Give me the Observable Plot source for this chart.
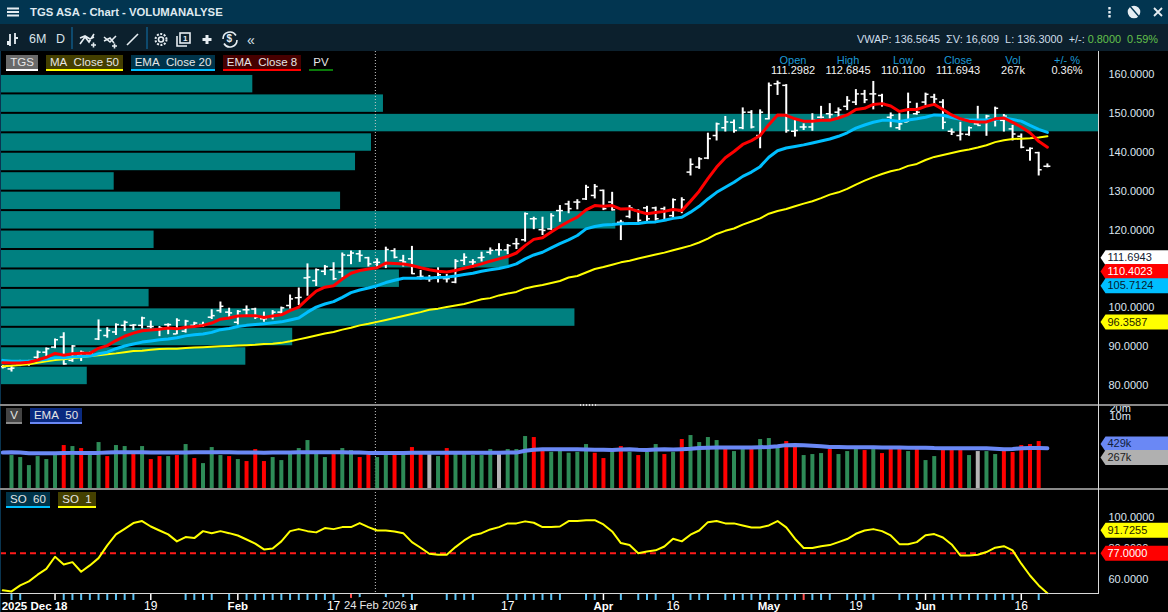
<!DOCTYPE html>
<html>
<head>
<meta charset="utf-8">
<script src="https://cdn.jsdelivr.net/npm/d3@7"></script>
<script src="https://cdn.jsdelivr.net/npm/@observablehq/plot@0.6"></script>
<style>
html,body{margin:0;padding:0;background:#000;overflow:hidden}
#page{position:relative;width:1168px;height:612px;background:#000;font-family:"Liberation Sans",Arial,sans-serif;overflow:hidden}
.abs{position:absolute;white-space:nowrap}
.sep{width:1.5px;background:#0e4a6e;top:27px;height:22px}
.tool{color:#d9e3ea;font-size:12.5px;top:32px}
.lg{height:14px;line-height:14px;font-size:11.5px;color:#e6e6e6;text-align:center}
.lgu{height:2px}
.hdr{font-size:11px;color:#1c9ad6;width:60px;text-align:center;top:54px;line-height:12px}
.val{font-size:11px;color:#f2f2f2;width:60px;text-align:center;top:64px;line-height:12px}
.grey{background:#8a8a8a}
</style>
</head>
<body>
<div id="page"></div>
<script>
// ---- price data (one value per trading day) ----
const highs = [85.2,85.2,86.5,86.5,88.9,89.7,92.0,93.6,90.3,88.9,88.6,96.9,94.9,95.9,96.6,95.7,97.6,96.6,95.2,95.9,97.2,96.8,96.3,96.3,99.5,101.5,99.9,99.3,100.5,99.9,98.9,99.3,100.2,103.3,105.1,111.3,110.0,110.9,111.6,114.1,114.6,114.7,113.0,112.6,115.6,115.2,
113.5,115.8,109.6,108.3,110.3,108.6,112.4,113.9,112.4,114.3,115.4,116.5,116.3,117.8,124.4,123.3,123.3,124.2,126.3,127.4,127.8,131.5,131.7,130.3,129.7,122.5,126.3,125.2,126.1,125.9,125.9,128.0,128.3,
138.3,138.6,144.9,147.5,149.2,148.3,151.4,150.7,150.9,157.8,158.3,157.4,148.2,147.3,149.9,151.8,152.5,151.4,154.3,156.1,155.9,158.2,154.9,150.1,149.9,155.2,152.6,155.2,154.9,153.5,146.0,147.7,146.5,151.8,149.5,151.6,149.7,146.9,144.7,141.1,140.0,137.0];
const lows = [84.3,83.5,84.9,85.0,86.5,87.3,89.5,85.3,86.0,86.2,87.3,91.6,92.2,92.9,93.9,94.2,94.6,94.6,92.6,93.1,93.1,93.5,94.9,95.0,97.0,98.6,97.6,95.6,97.6,97.0,96.3,96.9,98.0,99.7,100.6,103.0,105.5,108.3,107.0,107.7,111.1,111.7,110.5,110.5,110.1,112.6,
110.5,108.6,107.2,106.6,106.4,106.4,106.2,110.9,110.3,111.8,113.6,113.3,113.7,115.0,116.9,120.1,118.6,119.9,122.0,124.2,125.2,127.6,128.0,125.0,124.9,117.3,122.9,122.0,122.0,122.3,122.5,122.9,124.2,
133.9,135.6,138.1,142.9,145.2,144.9,145.8,146.0,140.9,148.3,154.6,144.9,143.9,145.6,145.4,148.6,148.6,149.0,150.7,152.0,152.5,150.9,151.6,146.3,145.6,147.7,149.5,152.0,152.0,145.8,144.3,142.9,144.1,146.9,144.1,146.5,145.2,142.9,140.9,137.7,133.9,136.0];
const opens = [84.9,84.3,85.6,85.6,87.3,88.6,89.9,92.5,86.5,87.8,88.0,92.0,92.9,93.8,95.5,95.5,95.5,95.2,94.6,95.7,93.3,94.0,95.5,95.7,97.6,99.3,98.9,96.3,99.5,99.7,97.2,97.6,98.9,100.6,102.6,107.7,107.0,109.4,109.8,109.2,113.5,113.9,112.9,111.7,111.1,114.7,
112.2,112.6,107.9,107.5,107.9,107.5,106.6,112.2,111.8,112.9,114.3,114.9,114.9,116.5,117.5,122.9,120.1,120.3,125.0,126.7,127.2,128.0,128.9,130.2,127.2,122.0,123.5,125.0,125.7,125.7,125.5,123.7,125.0,
134.9,136.2,138.5,144.3,146.3,147.7,146.3,150.3,144.3,148.6,157.6,157.2,145.4,146.5,146.5,149.0,149.9,150.3,151.8,152.9,155.0,155.0,154.6,149.0,146.3,147.8,149.9,152.9,154.2,152.9,145.4,144.3,144.6,147.3,148.2,148.2,148.2,146.0,144.1,140.5,139.9,136.4];
const closes = [84.8,84.5,86.0,86.3,88.6,89.5,91.8,85.6,90.2,88.6,88.2,94.2,94.2,95.7,96.3,95.6,97.4,95.2,94.9,95.7,96.8,96.6,96.1,95.7,98.0,100.4,98.7,99.1,99.5,97.6,97.2,98.9,100.0,102.3,102.7,107.9,109.8,110.6,107.5,113.6,114.1,113.5,111.3,111.7,115.0,113.0,
111.8,108.8,108.1,107.5,108.5,107.5,112.0,113.0,111.8,113.0,114.8,114.9,116.0,116.5,124.2,122.9,119.9,123.7,125.0,125.5,127.2,131.0,131.2,125.5,125.2,122.0,125.7,122.5,122.9,122.9,122.5,127.8,127.8,
136.9,138.3,143.5,147.3,147.8,145.6,150.3,146.5,150.3,157.2,157.8,145.6,145.6,146.5,148.2,149.0,149.7,150.9,153.3,155.0,153.5,155.0,152.5,149.5,147.3,152.9,150.3,154.9,153.7,147.7,145.2,144.7,146.3,146.9,149.3,151.3,149.3,144.7,141.3,141.0,135.5,136.4];
// ---- moving averages ----
const ema8 = [85.9,85.8,85.8,86.0,86.6,87.3,88.3,87.8,88.2,88.3,88.3,89.6,90.3,91.6,92.7,93.5,94.1,94.3,94.5,94.8,94.6,95.0,95.2,95.5,96.1,97.1,97.4,97.9,98.0,98.0,97.5,97.9,98.2,99.3,100.2,102.3,104.3,105.3,105.7,107.4,108.9,109.6,110.0,110.3,111.5,111.4,
111.3,110.9,110.3,109.8,109.4,109.2,109.6,110.2,110.7,111.3,112.0,112.6,113.2,114.1,116.0,117.6,118.0,119.5,120.9,122.2,123.3,125.2,126.3,126.1,126.3,125.4,125.5,124.8,124.2,124.5,124.8,125.3,125.0,
127.4,130.0,133.2,136.2,138.6,140.2,142.0,143.0,144.3,147.1,149.6,149.5,148.6,148.0,148.0,148.2,148.2,148.8,149.6,151.0,151.3,152.3,152.5,151.9,150.5,151.0,151.0,151.8,152.3,151.0,149.6,148.6,148.0,147.8,147.8,148.6,148.8,147.7,146.5,145.0,142.8,141.3];
const ema20 = [86.5,86.3,86.3,86.3,86.5,86.8,87.2,87.2,87.4,87.5,87.6,88.2,88.6,89.5,90.2,90.7,91.2,91.5,91.8,92.0,92.3,92.8,93.1,93.3,93.7,94.4,94.7,95.2,95.5,95.7,95.9,96.2,96.4,96.9,97.4,98.9,100.2,101.0,101.6,102.7,103.9,104.6,105.1,105.7,106.5,107.1,
107.6,107.6,107.6,107.7,107.8,107.9,108.2,108.6,108.9,109.4,109.8,110.1,110.6,111.3,112.6,113.6,114.3,115.4,116.5,117.5,118.6,120.3,120.9,121.3,121.4,121.6,121.7,121.7,122.0,122.1,122.5,123.0,123.3,
124.6,126.1,128.0,129.7,131.0,132.3,133.8,134.9,136.3,138.7,140.4,141.1,141.5,141.9,142.4,142.9,143.4,144.1,145.0,146.2,147.0,147.7,148.2,148.2,147.9,148.3,148.6,149.0,149.6,149.5,148.9,148.5,148.3,148.3,148.3,148.4,148.8,148.4,148.0,146.9,145.9,145.1];
const ma50 = [85.0,85.1,85.3,85.5,85.9,86.3,86.6,86.8,87.1,87.3,87.6,87.8,88.1,88.3,88.6,88.9,89.0,89.2,89.4,89.5,89.5,89.7,89.8,89.9,90.0,90.1,90.2,90.3,90.4,90.5,90.7,90.8,91.0,91.4,91.9,92.4,92.9,93.4,93.8,94.4,94.9,95.5,95.9,96.4,96.9,97.4,
97.9,98.4,98.9,99.5,99.8,100.2,100.6,101.0,101.6,102.2,102.5,103.2,103.7,104.1,105.0,105.5,105.9,106.4,106.9,107.8,108.2,109.1,110.0,110.5,111.1,111.7,112.1,112.7,113.2,113.7,114.2,114.8,115.4,
116.0,116.8,117.8,119.0,119.8,120.4,121.4,122.2,123.0,124.2,124.9,125.4,126.1,126.8,127.4,128.2,129.1,129.7,130.6,131.7,132.7,133.6,134.4,135.1,135.6,136.5,137.0,138.0,138.8,139.3,139.8,140.3,140.7,141.2,141.8,142.6,143.1,143.4,143.5,143.6,143.8,144.1];
// ---- price-volume profile, one per 5-unit price band, top band first ----
const pvTops = [160,155,150,145,140,135,130,125,120,115,110,105,100,95,90,85];
const pvVolume = [252,383,1100,371,355,113,340,616,153,509,399,148,575,292,245,86];
// ---- volume, in thousands ----
const volumes = [0,341,287,143,312,241,341,811,743,625,394,1051,312,811,743,454,743,241,312,312,341,884,263,170,682,341,312,241,203,573,203,287,221,394,625,1250,454,287,372,625,526,287,394,287,417,394,
417,682,394,394,312,625,417,394,341,341,573,394,573,573,1769,1621,526,454,526,417,454,884,417,263,526,743,454,341,454,884,372,454,1364,1928,1051,1621,1250,625,482,573,573,1364,1487,702,1146,811,
341,372,405,573,372,482,573,526,573,405,573,573,482,573,221,312,526,526,526,341,482,482,372,526,442,811,884,1146,19];
const redVolumeDays = [7,9,12,15,17,18,20,22,26,28,29,30,38,41,42,45,47,48,51,61,62,68,69,71,73,76,78,83,86,90,91,95,99,101,102,103,105,108,109,110,115,116,117,118,119];
const greyVolumeDays = [49,57,112];
const volumeEma = [440,450,440,420,420,420,420,425,430,430,430,430,440,450,455,455,450,445,445,445,445,445,450,450,450,450,450,445,440,440,435,440,445,445,450,455,455,455,455,450,445,440,430,430,430,430,430,435,435,435,435,435,435,435,435,435,435,435,440,440,
520,560,585,590,590,590,590,575,565,560,555,575,590,565,555,575,590,570,585,610,650,665,680,680,680,680,680,700,720,770,840,850,830,800,770,720,710,700,700,695,695,690,685,680,675,670,670,650,645,640,640,640,640,640,620,590,605,645,650,650,645];
// ---- stochastic oscillator ----
const so1 = [53.0,52.3,56.2,58.8,63.1,66.9,74.7,69.7,71.2,65.0,69.1,73.8,82.0,89.1,92.7,96.4,97.7,94.2,91.6,89.1,84.6,87.4,86.7,91.2,89.9,91.2,89.9,88.4,85.8,83.1,79.4,80.0,84.6,91.2,92.5,91.2,90.4,93.2,92.5,93.8,93.8,96.4,93.8,91.6,91.6,91.0,
89.9,84.1,80.5,76.6,76.0,76.0,80.9,85.2,88.6,89.9,92.3,93.8,96.2,96.2,97.5,96.6,93.8,93.8,94.2,97.7,97.7,98.3,98.3,95.5,91.0,83.5,82.2,77.0,78.1,78.8,81.3,86.3,84.6,88.9,91.6,97.0,97.7,96.2,96.2,94.9,93.6,93.6,94.9,97.7,93.6,86.3,
80.3,80.3,81.5,82.2,84.1,86.1,89.5,91.6,92.5,91.2,88.4,82.8,82.8,84.1,88.6,89.3,87.1,82.6,75.5,75.5,76.0,77.7,80.5,81.5,78.8,70.2,62.6,56.2,51.2];
const soLevel = 77;
// ---- axes ----
const priceTicks = [160,150,140,130,120,110,100,90,80];
const volTicks = [20000,10000];
const soTicks = [100,80,60];
const blueTickDays = [1,2,7,8,9,10,11,12,13,14,15,21,22,23,24,26,28,29,30,31,32,33,34,35,36,37,38,41,44,46,47,51,52,53,54,58,59,60,61,62,63,64,67,68,71,73,74,75,77,79,80,81,83,84,85,86,87,88,89,90,91,93,94,95,97,98,99,100,103,104,105,107,108,109,110,111,112,113,114,115,116,119];
const whiteTickDays = [6,17,27,69,106,117];
const redTickDays = [40,92];
const boldDateLabels = [{day:27,text:"Feb"},{day:46.5,text:"Mar"},{day:69,text:"Apr"},{day:88,text:"May"},{day:106,text:"Jun"}];
const plainDateLabels = [{day:17,text:"19"},{day:38,text:"17"},{day:58,text:"17"},{day:77,text:"16"},{day:98,text:"19"},{day:117,text:"16"}];
const firstDateLabel = {day:6,text:"2025 Dec 18"};
const crossDay = 42.8;
const crossDateLabel = "24 Feb 2026";
const priceTags = [
  {v:111.6943,fill:"#ffffff",text:"#102030",shift:-4.6},
  {v:110.4023,fill:"#ff0000",text:"#ffffff",shift:4},
  {v:105.7124,fill:"#00bfff",text:"#06202e",shift:0},
  {v:96.3587,fill:"#ffff00",text:"#222200",shift:0}
];
const volTags = [{v:429,label:"429k",fill:"#6a88f5",text:"#10203c",shift:-9},{v:267,label:"267k",fill:"#b0b0b0",text:"#202020",shift:-1}];
const soTags = [{v:91.7255,fill:"#ffff00",text:"#222200"},{v:77,fill:"#ff0000",text:"#ffffff"}];

const days = d3.range(121);
const bars = days.map(i=>({i,high:highs[i],low:lows[i],open:opens[i],close:closes[i]}));
const line = arr => days.map(i=>({i,v:arr[i]}));
const xScale = {domain:[-0.264,125.87],range:[0,1098],axis:null};
const FONT = '"Liberation Sans",Arial,sans-serif';
const tagShape = {draw(c){c.moveTo(0,0);c.lineTo(5,-7.5);c.lineTo(68,-7.5);c.lineTo(68,7.5);c.lineTo(5,7.5);c.closePath();}};
function tagMarks(tags,labelOf){
  return tags.flatMap(t=>[
    Plot.dot([t],{y:"v",frameAnchor:"right",dx:2,symbol:tagShape,fill:t.fill,stroke:"none",dy:t.shift||0}),
    Plot.text([t],{y:"v",frameAnchor:"right",dx:9,dy:t.shift||0,textAnchor:"start",text:labelOf,fill:t.text,fontSize:11,fontFamily:FONT})
  ]);
}
function crossRule(){return Plot.ruleX([crossDay],{stroke:"#c8c8c8",strokeWidth:1,strokeDasharray:"1,2"});}
const common = {width:1168,marginLeft:0,marginRight:70,marginTop:0,x:xScale};
const page = document.getElementById("page");

// profile layer
const priceY = {domain:[74.9,165.9],range:[354,0],axis:null};
const profile = Plot.plot({width:1168,height:354,marginLeft:1,marginRight:70,marginTop:0,marginBottom:0,
  x:{domain:[0,1100],axis:null},y:priceY,
  marks:[Plot.rectX(pvTops.map((t,k)=>({t,v:pvVolume[k]})),{x1:0,x2:"v",y1:d=>d.t-5,y2:"t",fill:"#008080",insetTop:1,insetBottom:1})]});
// price layer
const price = Plot.plot({...common,height:354,marginBottom:0,y:priceY,
  marks:[
    crossRule(),
    Plot.ruleX(bars,{x:"i",y1:"low",y2:"high",stroke:"#fff",strokeWidth:2}),
    Plot.ruleY(bars,{y:"open",x1:d=>d.i-0.4,x2:"i",stroke:"#fff",strokeWidth:1.5}),
    Plot.ruleY(bars,{y:"close",x1:"i",x2:d=>d.i+0.4,stroke:"#fff",strokeWidth:1.5}),
    Plot.line(line(ma50),{x:"i",y:"v",stroke:"#ffff00",strokeWidth:2}),
    Plot.line(line(ema20),{x:"i",y:"v",stroke:"#00bfff",strokeWidth:3}),
    Plot.line(line(ema8),{x:"i",y:"v",stroke:"#ff0000",strokeWidth:3}),
    Plot.axisY({anchor:"right",ticks:priceTicks,tickSize:0,tickPadding:10,tickFormat:d=>d.toFixed(4),fill:"#dde6f0",fontSize:11,fontFamily:FONT,label:null}),
    ...tagMarks(priceTags,d=>d.v.toFixed(4))
  ]});
// volume layer
const volData = days.filter(i=>volumes[i]>0).map(i=>({i,v:volumes[i]}));
const colourOf = d=>redVolumeDays.includes(d.i)?"#ff0000":greyVolumeDays.includes(d.i)?"#b4b4b4":"#2e8b57";
const volMarks = ["#2e8b57","#ff0000","#b4b4b4"].map(c=>Plot.ruleX(volData.filter(d=>colourOf(d)===c),{x:"i",y1:18.1,y2:"v",stroke:c,strokeWidth:4}));
const volume = Plot.plot({...common,height:84,marginBottom:0,
  y:{type:"log",domain:[18.07,25940],range:[84,0],axis:null},
  marks:[
    crossRule(),...volMarks,
    Plot.line(line(volumeEma),{x:"i",y:"v",stroke:"#6a88f5",strokeWidth:4}),
    Plot.axisY({anchor:"right",ticks:volTicks,tickSize:0,tickPadding:11,tickFormat:d=>(d/1000)+"m",fill:"#dde6f0",fontSize:11,fontFamily:FONT,label:null}),
    ...tagMarks(volTags,d=>d.label)
  ]});
// stochastic + date axis layer
const dateText = {frameAnchor:"bottom",lineAnchor:"middle",fontFamily:FONT};
const so = Plot.plot({...common,height:123,marginBottom:19,
  y:{domain:[50.97,118.06],range:[104,0],axis:null},
  marks:[
    crossRule(),
    Plot.ruleY([soLevel],{stroke:"#ff1a1a",strokeWidth:2,strokeDasharray:"6,4"}),
    Plot.line(line(so1),{x:"i",y:"v",stroke:"#ffff00",strokeWidth:2}),
    Plot.axisY({anchor:"right",ticks:soTicks,tickSize:0,tickPadding:10,tickFormat:d=>d.toFixed(4),fill:"#dde6f0",fontSize:11,fontFamily:FONT,label:null}),
    ...tagMarks(soTags,d=>d.v.toFixed(4)),
    Plot.axisX({anchor:"bottom",ticks:blueTickDays,tickSize:7,tickFormat:()=>"",stroke:"#5ec3f5",strokeWidth:2,label:null}),
    Plot.axisX({anchor:"bottom",ticks:whiteTickDays,tickSize:7,tickFormat:()=>"",stroke:"#ffffff",strokeWidth:1.5,label:null}),
    Plot.axisX({anchor:"bottom",ticks:redTickDays,tickSize:7,tickFormat:()=>"",stroke:"#ff5050",strokeWidth:2,label:null}),
    Plot.text([firstDateLabel],{...dateText,x:"day",text:"text",dy:13,dx:12.5,textAnchor:"end",fill:"#fff",fontSize:11.5,fontWeight:"bold"}),
    Plot.text(boldDateLabels,{...dateText,x:"day",text:"text",dy:13,fill:"#fff",fontSize:11.5,fontWeight:"bold"}),
    Plot.text(plainDateLabels,{...dateText,x:"day",text:"text",dy:13,fill:"#fff",fontSize:12}),
    Plot.text([crossDateLabel],{...dateText,x:()=>crossDay,text:d=>d,dy:12,fill:"#e8e8e8",fontSize:11.2,stroke:"#000",strokeWidth:8})
  ]});
[[profile,51],[price,51],[volume,405],[so,489]].forEach(([s,t])=>{s.style.top=t+"px";s.style.position="absolute";s.style.left="0";s.style.background="transparent";s.style.overflow="visible";page.appendChild(s);});

// chrome
function el(cls,css,html){const d=document.createElement("div");d.className="abs "+(cls||"");d.style.cssText=css||"";if(html!=null)d.innerHTML=html;page.appendChild(d);return d;}
el("","left:0;top:51px;width:1px;height:561px;background:#0a3550");
el("grey","left:0;top:404px;width:1168px;height:2px");
el("grey","left:0;top:488px;width:1168px;height:2px");
el("","left:1098px;top:51px;width:1px;height:543px;background:#d8d8d8");
el("","left:0;top:593px;width:1099px;height:1px;background:#d8d8d8");
el("","left:580px;top:404px;width:16px;height:2px;background:repeating-linear-gradient(90deg,#ddd 0 1px,#777 1px 3px)");
el("","left:0;top:0;width:1168px;height:24px;background:#023550");
el("","left:0;top:24px;width:1168px;height:27px;background:#0c202d");
el("","left:30px;top:4px;font-size:11.3px;font-weight:bold;color:#dfe9f0;line-height:16px","TGS ASA - Chart - VOLUMANALYSE");
const svgIcons = `<svg width="1168" height="51" style="position:absolute;left:0;top:0" fill="none" stroke="#e6edf2" stroke-width="1.6">
<path d="M7 8.5H19M7 12H19M7 15.5H19" stroke-width="2"/>
<path d="M1109.5 7v2.4M1109.5 11v2.4M1109.5 15v2.4" stroke-width="2.4"/>
<circle cx="1134" cy="12" r="5.5" fill="#e6edf2"/><path d="M1129 5L1141 19" stroke="#023550" stroke-width="1.4"/>
<path d="M1154 8L1162 16M1162 8L1154 16" stroke-width="1.8"/>
<path d="M10 34V46M15 33V44M7 44H10M15 38H18M10 42H7" stroke-width="1.8"/>
<path d="M80 44L85 37L89 42L94 34M80 38L85 36L90 39L94 37M91 45H96M93.500 42.500V47.500" stroke-width="1.6"/>
<path d="M104 37L110 42L116 36M104 41L110 38L114 43M112 46H117M114.500 43.500V48.500" stroke-width="1.6"/>
<path d="M127 45L138 34"/>
<circle cx="161" cy="39.500" r="2.500"/><circle cx="161" cy="39.500" r="5.500" stroke-dasharray="2,1.500" stroke-width="2"/>
<rect x="180" y="33" width="10" height="10"/><path d="M177 36V46H187"/>
<path d="M207 35V44M202.500 39.500H211.500" stroke-width="3"/>
<path d="M223 39a7 7 0 0 1 13-3.500M237 40a7 7 0 0 1-13 3.500"/>
</svg>`;
el("","left:0;top:0;",svgIcons);
el("","left:183px;top:33.5px;font-size:8px;color:#e6edf2;line-height:9px;font-weight:bold","1");
el("","left:226.5px;top:33px;font-size:10px;color:#e6edf2;line-height:12px;font-weight:bold","$");
el("tool","left:29px;top:32px","6M");
el("tool","left:56px;top:32px","D");
el("tool","left:247px;top:32px;font-size:14px","«");
el("sep","left:71px");el("sep","left:146px");
// quote line
el("","right:10px;top:33px;font-size:10.9px;color:#cfdeea;line-height:13px",'VWAP: 136.5645 &nbsp;ΣV: 16,609 &nbsp;L: 136.3000 &nbsp;+/-: <span style="color:#63c14b">0.8000</span> &nbsp;<span style="color:#63c14b">0.59%</span>');
// ohlc table
[["Open","111.2982",793],["High","112.6845",848],["Low","110.1100",903],["Close","111.6943",958],["Vol","267k",1013],["+/- %","0.36%",1067]].forEach(([a,b,cx])=>{
  el("hdr",`left:${cx-30}px`,a);el("val",`left:${cx-30}px`,b);
});
// legend chips
function chip(x,y,w,bg,ul,text,fg){
  el("lg",`left:${x}px;top:${y}px;width:${w}px;background:${bg};color:${fg||"#e6e6e6"}`,text);
  el("lgu",`left:${x}px;top:${y+14}px;width:${w}px;background:${ul}`);
}
chip(6,55,32,"#6a6a6a","#ffffff","TGS");
chip(46,55,77,"#443f00","#ffff00","MA&nbsp; Close 50");
chip(131,55,84,"#00344a","#00bfff","EMA&nbsp; Close 20");
chip(223,55,78,"#470000","#ff0000","EMA&nbsp; Close 8");
chip(309,55,24,"#000","#0a7a0a","PV");
chip(6,408,16,"#444","#8a8a8a","V");
chip(30,408,52,"#0a2a80","#6a88f5","EMA&nbsp; 50");
chip(6,492,44,"#00344a","#00bfff","SO&nbsp; 60");
chip(58,492,38,"#444000","#ffff00","SO&nbsp; 1");
</script>
</body>
</html>
